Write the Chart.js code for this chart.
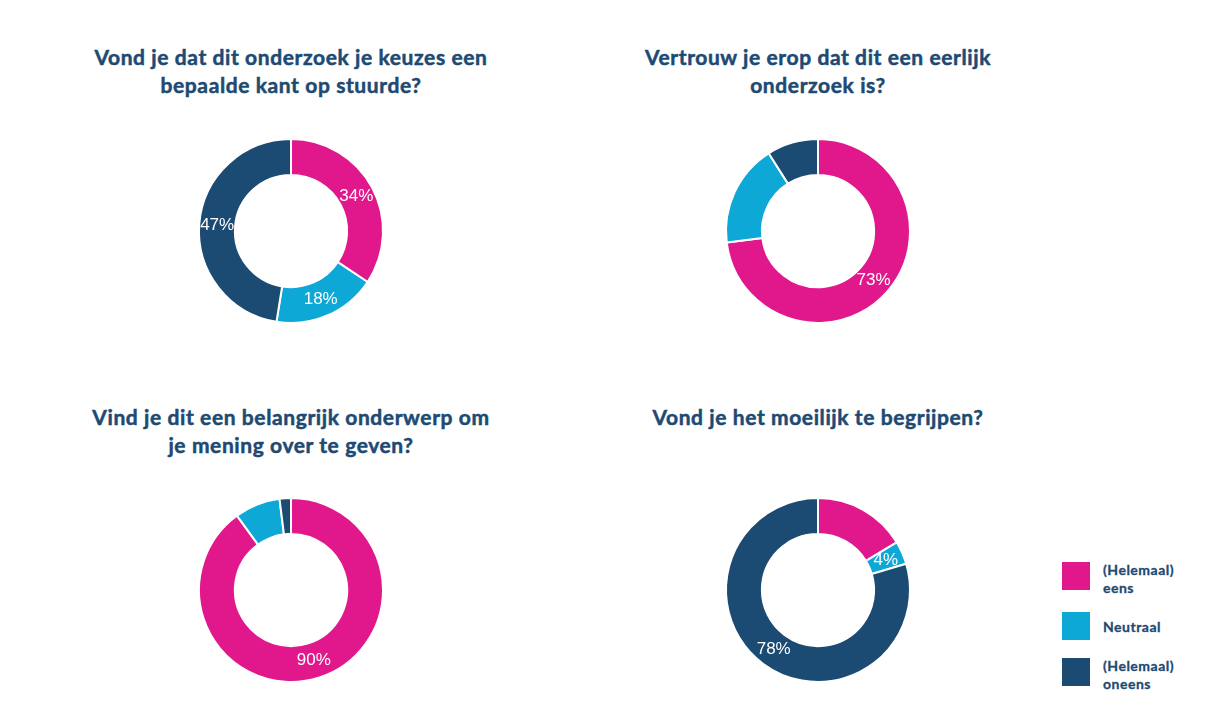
<!DOCTYPE html>
<html>
<head>
<meta charset="utf-8">
<script src="https://cdn.jsdelivr.net/npm/chart.js@4.4.1/dist/chart.umd.min.js"></script>
<style>
  body { margin: 0; background: #fff; width: 1212px; height: 722px; position: relative; overflow: hidden; font-family: Lato, sans-serif; }
  .title { position: absolute; width: 520px; text-align: center; color: #1d4a73; font-weight: 700; font-size: 21px; letter-spacing: 0.6px; line-height: 28px; -webkit-text-stroke: 0.5px #1d4a73; }
  .box { position: absolute; width: 200px; height: 200px; }
  #legend { position: absolute; left: 1062px; top: 560px; }
  .item { position: absolute; left: 0; width: 150px; }
  .sw { position: absolute; left: 0; width: 28px; height: 28px; }
  .lt { position: absolute; left: 41px; color: #1d4a73; font-weight: 700; font-size: 14px; letter-spacing: 0.5px; line-height: 18px; -webkit-text-stroke: 0.3px #1d4a73; }
</style>
</head>
<body>
<div id="t0" class="title" style="left:31px; top:43px;"></div>
<div id="t1" class="title" style="left:558px; top:43px;"></div>
<div id="t2" class="title" style="left:31px; top:403px;"></div>
<div id="t3" class="title" style="left:558px; top:403px;"></div>
<div class="box" style="left:191px; top:131px;"><canvas id="c0"></canvas></div>
<div class="box" style="left:718px; top:131px;"><canvas id="c1"></canvas></div>
<div class="box" style="left:191px; top:490px;"><canvas id="c2"></canvas></div>
<div class="box" style="left:718px; top:490px;"><canvas id="c3"></canvas></div>
<div id="legend"></div>
<script>
// antwoordcategorieën en kleuren
const categories = ['(Helemaal) eens', 'Neutraal', '(Helemaal) oneens'];
const colors = ['#e0188c', '#0ea8d6', '#1b4a72'];

// vragen (titels)
const questions = [
  ['Vond je dat dit onderzoek je keuzes een', 'bepaalde kant op stuurde?'],
  ['Vertrouw je erop dat dit een eerlijk', 'onderzoek is?'],
  ['Vind je dit een belangrijk onderwerp om', 'je mening over te geven?'],
  ['Vond je het moeilijk te begrijpen?']
];

// percentages per vraag (eens, neutraal, oneens)
const stuurde = [34, 18, 47];
const eerlijk = [73, 18, 9];
const belangrijk = [90, 8, 2];
const moeilijk = [16, 4, 78];

// welke percentages als label getoond worden
const showStuurde = [true, true, true];
const showEerlijk = [true, false, false];
const showBelangrijk = [true, false, false];
const showMoeilijk = [false, true, true];

const allData = [stuurde, eerlijk, belangrijk, moeilijk];
const allShow = [showStuurde, showEerlijk, showBelangrijk, showMoeilijk];

// plugin: tekent de percentages midden in de ring
const pctLabels = {
  id: 'pctLabels',
  afterDatasetsDraw(chart, args, opts) {
    const ctx = chart.ctx;
    const meta = chart.getDatasetMeta(0);
    const values = chart.data.datasets[0].data;
    ctx.save();
    ctx.font = '17px "Liberation Sans", Arial, sans-serif';
    ctx.fillStyle = '#ffffff';
    ctx.textAlign = 'center';
    ctx.textBaseline = 'middle';
    meta.data.forEach((arc, i) => {
      if (!opts.show[i]) return;
      const p = arc.tooltipPosition();
      ctx.fillText(values[i] + '%', p.x, p.y);
    });
    ctx.restore();
  }
};

allData.forEach((vals, k) => {
  document.getElementById('t' + k).innerHTML = questions[k].join('<br>');
  new Chart(document.getElementById('c' + k), {
    type: 'doughnut',
    data: {
      labels: categories,
      datasets: [{
        data: vals,
        backgroundColor: colors,
        borderColor: '#ffffff',
        borderWidth: 2,
        hoverOffset: 0
      }]
    },
    options: {
      responsive: true,
      maintainAspectRatio: false,
      animation: false,
      cutout: '61%',
      layout: { padding: 7 },
      plugins: {
        legend: { display: false },
        tooltip: { enabled: false },
        pctLabels: { show: allShow[k] }
      }
    },
    plugins: [pctLabels]
  });
});

// legenda rechtsonder
const legend = document.getElementById('legend');
const legendTops = [2, 52, 98];
categories.forEach((c, i) => {
  const words = c.split(' ');
  const item = document.createElement('div');
  item.className = 'item';
  item.style.top = legendTops[i] + 'px';
  const lineTop = words.length > 1 ? -1 : 6;
  item.innerHTML = '<div class="sw" style="background:' + colors[i] + '"></div>' +
    '<div class="lt" style="top:' + lineTop + 'px">' + words.join('<br>') + '</div>';
  legend.appendChild(item);
});
</script>
</body>
</html>
